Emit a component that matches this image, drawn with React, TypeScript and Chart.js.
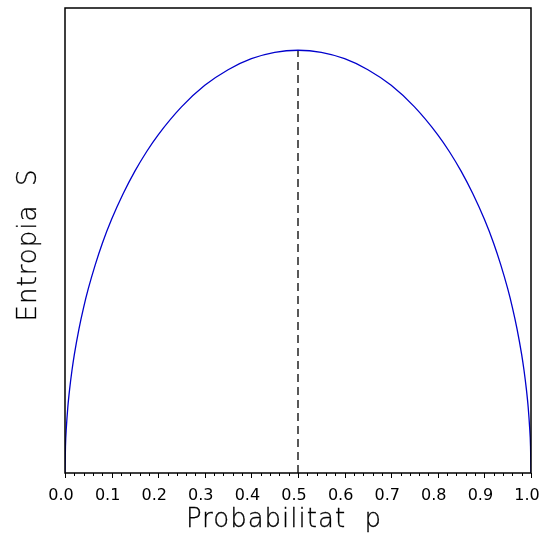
import React, { useEffect, useRef } from "react";
import { Chart, registerables } from "chart.js";

Chart.register(...registerables);

// Probability values along the horizontal axis
const probabilities = [
  0, 0.001, 0.003, 0.006, 0.01, 0.015, 0.02, 0.03, 0.04, 0.05, 0.065, 0.08,
  0.1, 0.125, 0.15, 0.175, 0.2, 0.25, 0.3, 0.35, 0.4, 0.45, 0.5, 0.55, 0.6,
  0.65, 0.7, 0.75, 0.8, 0.825, 0.85, 0.875, 0.9, 0.92, 0.935, 0.95, 0.96,
  0.97, 0.98, 0.985, 0.99, 0.994, 0.997, 0.999, 1,
];

// Entropy (relative units, peak = 1)
const entropy = [
  0, 0.063, 0.109, 0.155, 0.199, 0.243, 0.28, 0.341, 0.392, 0.436, 0.493,
  0.543, 0.6, 0.661, 0.714, 0.76, 0.8, 0.866, 0.917, 0.954, 0.98, 0.995, 1,
  0.995, 0.98, 0.954, 0.917, 0.866, 0.8, 0.76, 0.714, 0.661, 0.6, 0.543,
  0.493, 0.436, 0.392, 0.341, 0.28, 0.243, 0.199, 0.155, 0.109, 0.063, 0,
];

// Marker at the maximum
const markerP = [0.5, 0.5];
const markerS = [0, 1];

const xTickValues = [0, 0.1, 0.2, 0.3, 0.4, 0.5, 0.6, 0.7, 0.8, 0.9, 1.0];
const minorStep = 0.02;

const xTitle = "Probabilitat  p";
const yTitle = "Entropia  S";

const FONT = '"DejaVu Sans", "Liberation Sans", sans-serif';

const framePlugin = {
  id: "frameAndTitles",
  afterDraw(chart: any) {
    const { ctx, chartArea } = chart;
    const xs = chart.scales.x;
    ctx.save();
    // frame
    ctx.strokeStyle = "#000";
    ctx.lineWidth = 1.5;
    ctx.strokeRect(
      chartArea.left,
      chartArea.top,
      chartArea.right - chartArea.left,
      chartArea.bottom - chartArea.top
    );
    // major and minor ticks below the axis
    ctx.lineWidth = 1;
    const nMinor = Math.round(1 / minorStep);
    for (let i = 0; i <= nMinor; i++) {
      const v = i * minorStep;
      const x = Math.round(xs.getPixelForValue(v)) + 0.5;
      const len = i % 5 === 0 ? 5 : 3;
      ctx.beginPath();
      ctx.moveTo(x, chartArea.bottom);
      ctx.lineTo(x, chartArea.bottom + len);
      ctx.stroke();
    }
    // axis titles (thin face, lightly stroked)
    ctx.fillStyle = "#000";
    ctx.strokeStyle = "#000";
    ctx.lineWidth = 0.3;
    ctx.font = `200 26px ${FONT}`;
    (ctx as any).letterSpacing = "1px";
    ctx.textAlign = "center";
    ctx.textBaseline = "alphabetic";
    ctx.fillText(xTitle, 284, 527);
    ctx.strokeText(xTitle, 284, 527);
    ctx.translate(36, 245);
    ctx.rotate(-Math.PI / 2);
    ctx.fillText(yTitle, 0, 0);
    ctx.strokeText(yTitle, 0, 0);
    ctx.restore();
  },
};

export default function App() {
  const canvasRef = useRef<HTMLCanvasElement | null>(null);

  useEffect(() => {
    if (!canvasRef.current) return;
    const chart = new Chart(canvasRef.current, {
      type: "line",
      data: {
        datasets: [
          {
            data: probabilities.map((p, i) => ({ x: p, y: entropy[i] })),
            borderColor: "#0000cc",
            borderWidth: 1.3,
            pointRadius: 0,
            cubicInterpolationMode: "monotone",
            fill: false,
            order: 1,
          },
          {
            data: markerP.map((p, i) => ({ x: p, y: markerS[i] })),
            borderColor: "#000",
            borderWidth: 1.3,
            borderDash: [8, 5],
            pointRadius: 0,
            fill: false,
            order: 2,
          },
        ],
      },
      options: {
        responsive: true,
        maintainAspectRatio: false,
        animation: false,
        layout: { padding: { left: 65, right: 11, top: 8, bottom: 0 } },
        plugins: {
          legend: { display: false },
          tooltip: { enabled: false },
        },
        scales: {
          x: {
            type: "linear",
            min: 0,
            max: 1,
            grid: { display: false },
            border: { display: false },
            afterBuildTicks: (scale: any) => {
              scale.ticks = xTickValues.map((v) => ({ value: v }));
            },
            afterFit: (scale: any) => {
              scale.height = 60;
              scale.paddingLeft = 0;
              scale.paddingRight = 0;
            },
            ticks: {
              autoSkip: false,
              maxRotation: 0,
              minRotation: 0,
              padding: 5,
              labelOffset: -4,
              color: "#000",
              font: { family: FONT, size: 16, weight: "normal" },
              callback: (v: any) => Number(v).toFixed(1),
            },
          },
          y: {
            type: "linear",
            min: 0,
            max: 1.1,
            display: false,
          },
        },
      },
      plugins: [framePlugin],
    });
    return () => chart.destroy();
  }, []);

  return (
    <div style={{ position: "absolute", left: 0, top: 0, width: 542, height: 533, background: "#fff" }}>
      <canvas ref={canvasRef} />
    </div>
  );
}
